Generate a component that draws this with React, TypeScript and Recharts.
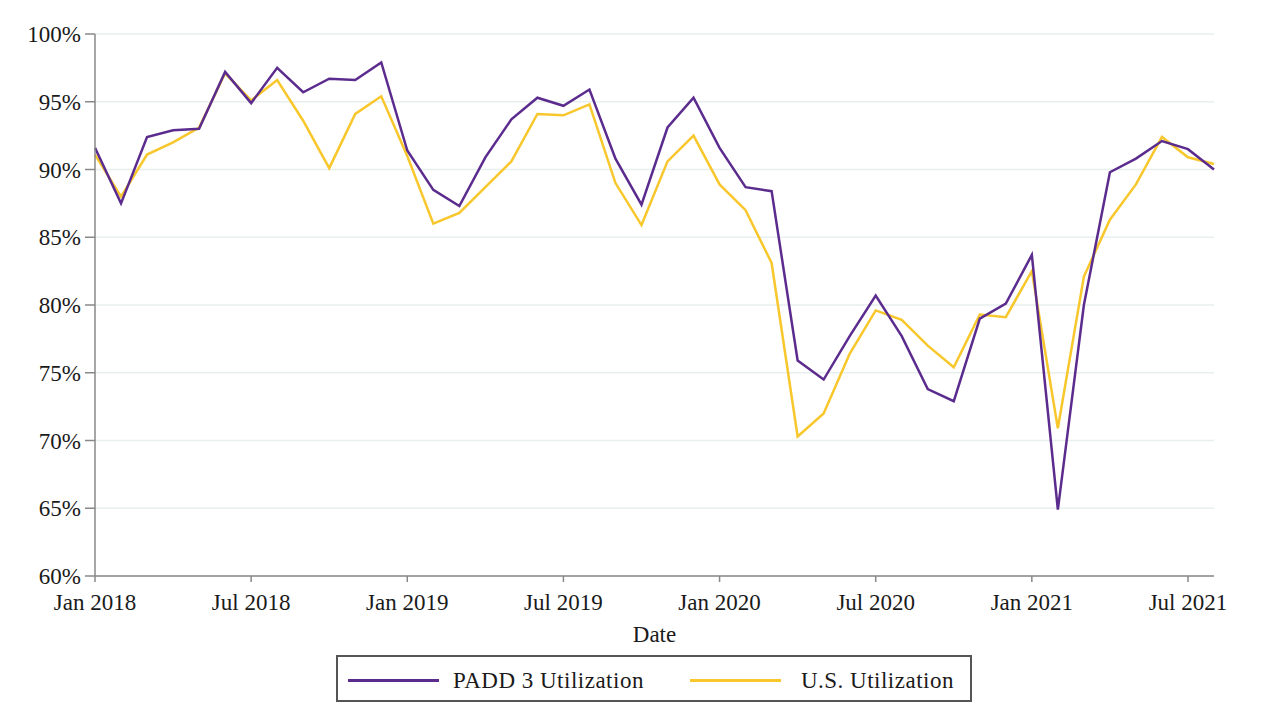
import React from 'react';
import { LineChart, Line, XAxis, YAxis, CartesianGrid } from 'recharts';

const months = [
  'Jan 2018', 'Feb 2018', 'Mar 2018', 'Apr 2018', 'May 2018', 'Jun 2018',
  'Jul 2018', 'Aug 2018', 'Sep 2018', 'Oct 2018', 'Nov 2018', 'Dec 2018',
  'Jan 2019', 'Feb 2019', 'Mar 2019', 'Apr 2019', 'May 2019', 'Jun 2019',
  'Jul 2019', 'Aug 2019', 'Sep 2019', 'Oct 2019', 'Nov 2019', 'Dec 2019',
  'Jan 2020', 'Feb 2020', 'Mar 2020', 'Apr 2020', 'May 2020', 'Jun 2020',
  'Jul 2020', 'Aug 2020', 'Sep 2020', 'Oct 2020', 'Nov 2020', 'Dec 2020',
  'Jan 2021', 'Feb 2021', 'Mar 2021', 'Apr 2021', 'May 2021', 'Jun 2021',
  'Jul 2021', 'Aug 2021',
];

// PADD 3 (Gulf Coast) refinery utilization, %
const padd3 = [
  91.6, 87.5, 92.4, 92.9, 93.0, 97.2, 94.9, 97.5, 95.7, 96.7, 96.6, 97.9,
  91.4, 88.5, 87.3, 90.9, 93.7, 95.3, 94.7, 95.9, 90.8, 87.4, 93.1, 95.3,
  91.6, 88.7, 88.4, 75.9, 74.5, 77.7, 80.7, 77.7, 73.8, 72.9, 79.0, 80.1,
  83.7, 64.9, 80.0, 89.8, 90.8, 92.1, 91.5, 90.0,
];

// U.S. refinery utilization, %
const us = [
  91.1, 88.0, 91.1, 92.0, 93.1, 97.1, 95.1, 96.6, 93.6, 90.1, 94.1, 95.4,
  91.0, 86.0, 86.8, 88.7, 90.6, 94.1, 94.0, 94.8, 89.0, 85.9, 90.6, 92.5,
  88.9, 87.0, 83.1, 70.3, 72.0, 76.4, 79.6, 78.9, 77.0, 75.4, 79.3, 79.1,
  82.5, 70.9, 82.1, 86.3, 88.9, 92.4, 90.9, 90.4,
];

const yTicks = [60, 65, 70, 75, 80, 85, 90, 95, 100];

const PURPLE = '#5b2c8e';
const GOLD = '#f8c72c';
const FONT = '"Liberation Serif", "Times New Roman", serif';

const data = months.map((m, i) => ({ month: m, padd3: padd3[i], us: us[i] }));

const tickStyle = { fontFamily: FONT, fontSize: 23, fill: '#1a1a1a' };

export default function App() {
  return (
    <div style={{ position: 'relative', width: 1220, height: 698, fontFamily: FONT }}>
      <LineChart
        width={1220}
        height={640}
        data={data}
        margin={{ top: 26, right: 14, left: 0, bottom: 0 }}
      >
        <CartesianGrid vertical={false} stroke="#e7efef" strokeWidth={1.5} />
        <XAxis
          dataKey="month"
          interval={5}
          height={72}
          tickSize={6}
          tickMargin={12}
          stroke="#888"
          strokeWidth={1.5}
          tick={tickStyle}
          label={{ value: 'Date', position: 'insideBottom', offset: 6, style: { ...tickStyle } }}
        />
        <YAxis
          width={87}
          domain={[60, 100]}
          ticks={yTicks}
          tickFormatter={(v: number) => `${v}%`}
          tickSize={10}
          tickMargin={4}
          stroke="#888"
          strokeWidth={1.5}
          tick={tickStyle}
        />
        <Line
          type="linear"
          dataKey="us"
          name="U.S. Utilization"
          stroke={GOLD}
          strokeWidth={2.5}
          dot={false}
          isAnimationActive={false}
        />
        <Line
          type="linear"
          dataKey="padd3"
          name="PADD 3 Utilization"
          stroke={PURPLE}
          strokeWidth={2.5}
          dot={false}
          isAnimationActive={false}
        />
      </LineChart>
      <div
        style={{
          position: 'absolute',
          left: 328,
          top: 647,
          width: 636,
          height: 47,
          boxSizing: 'border-box',
          border: '2px solid #555',
          display: 'flex',
          alignItems: 'center',
          fontSize: 23,
          letterSpacing: 0.5,
          color: '#1a1a1a',
          paddingTop: 4,
        }}
      >
        <span style={{ display: 'inline-block', width: 91, height: 3, background: PURPLE, marginLeft: 10 }} />
        <span style={{ marginLeft: 14 }}>PADD 3 Utilization</span>
        <span style={{ display: 'inline-block', width: 91, height: 3, background: GOLD, marginLeft: 46 }} />
        <span style={{ marginLeft: 20 }}>U.S. Utilization</span>
      </div>
    </div>
  );
}
